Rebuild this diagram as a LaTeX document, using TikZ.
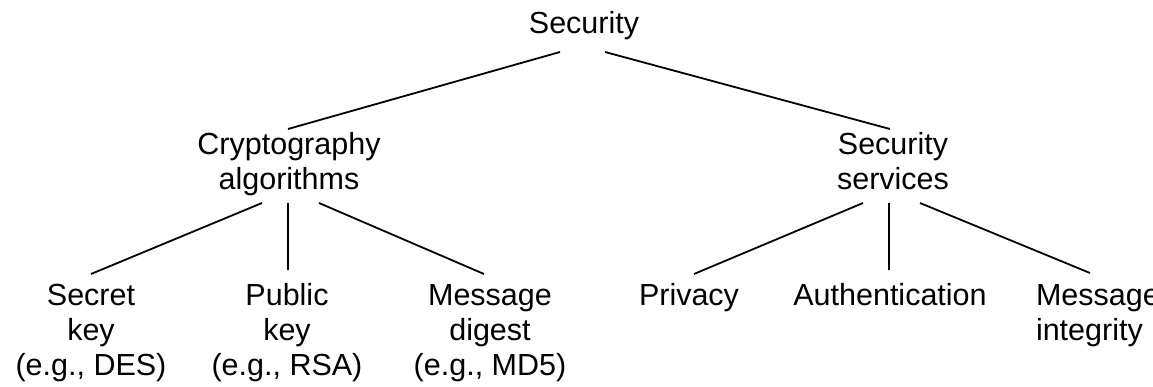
\documentclass[tikz,border=0pt]{standalone}
\usepackage{fontspec}
\setmainfont{Liberation Sans}
\usepackage{tikz}

\begin{document}
\begin{tikzpicture}[x=1pt,y=-1pt,line width=1.8pt,
	every node/.style={font=\fontsize{30.5pt}{35pt}\selectfont,inner sep=0pt,outer sep=0pt,align=center,anchor=base}]
			\useasboundingbox (0,0) rectangle (1153,387);
			% base = baseline of the last line
			\node (sec)      at (584,34)  {Security};
			\node (crypto)   at (289,190) {Cryptography\\algorithms};
			\node (services) at (893,190) {Security\\services};
			\node (secret)   at (91,375)  {Secret\\key\\(e.g., DES)};
			\node (public)   at (287,375) {Public\\key\\(e.g., RSA)};
			\node (digest)   at (490,375) {Message\\digest\\(e.g., MD5)};
			\node (privacy)  at (689,305) {Privacy};
			\node (authen)   at (890,305) {Authentication};
			\node[anchor=base west,align=left] (integ) at (1036,340) {Message\\integrity};
	
			\draw 	([xshift=-24pt,yshift=-18pt]sec.base) -- ([xshift=-1pt,yshift=61pt]crypto.base)
					([xshift=21pt,yshift=-18pt]sec.base) -- ([xshift=-3pt,yshift=61pt]services.base)
					([xshift=-27pt,yshift=-13pt]crypto.base) -- ([yshift=101pt]secret.base)
					([xshift=-1pt,yshift=-13pt]crypto.base) -- ([xshift=1pt,yshift=105pt]public.base)
					([xshift=30pt,yshift=-13pt]crypto.base) -- ([xshift=-6pt,yshift=101pt]digest.base)
					([xshift=-30pt,yshift=-13pt]services.base) -- ([xshift=5pt,yshift=31pt]privacy.base)
					([xshift=-4pt,yshift=-13pt]services.base) -- ([xshift=-1pt,yshift=35pt]authen.base)
					([xshift=27pt,yshift=-13pt]services.base) -- ([xshift=54pt,yshift=67pt]integ.base west);
			\end{tikzpicture}
\end{document}
